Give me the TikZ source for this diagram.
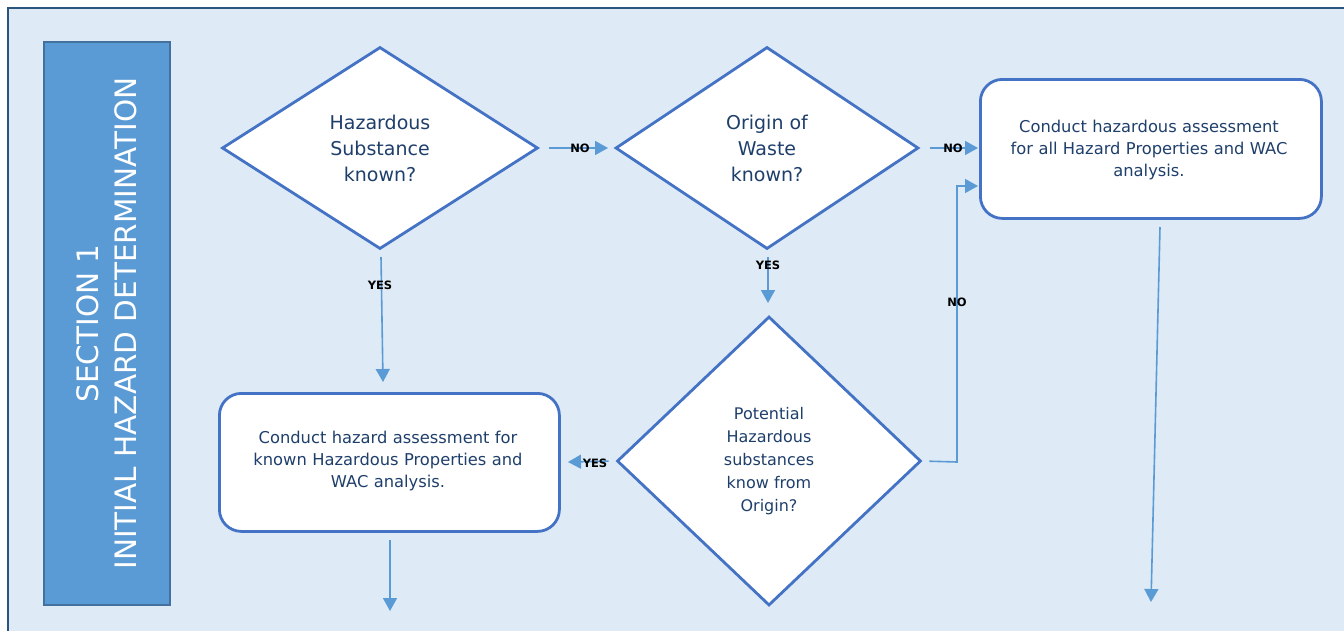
\documentclass[tikz,border=0pt]{standalone}
\usepackage{fontspec}
\setmainfont{DejaVu Sans}
\usetikzlibrary{shapes.geometric,arrows.meta}
\definecolor{bgblue}{HTML}{DEEAF6}
\definecolor{framecol}{HTML}{2B557F}
\definecolor{barfill}{HTML}{5B9BD5}
\definecolor{barline}{HTML}{41719C}
\definecolor{shapeline}{HTML}{4472C4}
\definecolor{arrowcol}{HTML}{5B9BD5}
\definecolor{txtcol}{HTML}{1F3F6B}
\tikzset{
  x=1pt,y=-1pt,
  decision/.style={diamond, draw=shapeline, line width=2.8pt, fill=white, inner sep=0pt, align=center, text=txtcol},
  procbox/.style={rectangle, rounded corners=22pt, draw=shapeline, line width=2.8pt, fill=white, align=center, text=txtcol, font=\fontsize{16.3}{22}\selectfont},
  flow/.style={draw=arrowcol, line width=1.6pt, -{Triangle[length=13pt,width=14pt]}},
  lbl/.style={font=\fontsize{11.5}{12}\selectfont\bfseries, text=black, inner sep=0pt},
}
\begin{document}
\begin{tikzpicture}
\useasboundingbox (0,0) rectangle (1344,630);
\fill[white] (0,0) rectangle (1344,630);
\draw[fill=bgblue, draw=framecol, line width=2.6pt] (8,8) rectangle (1360,650);

% side bar
\node[draw=barline, fill=barfill, line width=2.2pt, minimum width=126pt, minimum height=563pt, inner sep=0pt, anchor=north west] (bar) at (43,41) {};
\node[rotate=90, text=white, align=center, font=\fontsize{29.5}{38}\selectfont] (bartxt) at (bar.center) {SECTION 1\\INITIAL HAZARD DETERMINATION};

% decisions
\node[decision, minimum width=316pt, minimum height=202pt, font=\fontsize{19}{26}\selectfont] (d1) at (380,148) {Hazardous\\Substance\\known?};
\node[decision, minimum width=303pt, minimum height=202pt, font=\fontsize{19}{26}\selectfont] (d2) at (767,148) {Origin of\\Waste\\known?};
\node[decision, minimum width=304pt, minimum height=289pt, font=\fontsize{16}{23}\selectfont] (d3) at (769,461) {Potential\\Hazardous\\substances\\know from\\Origin?};

% boxes
\node[procbox, minimum width=341pt, minimum height=139pt, anchor=north west] (b1) at (979,78) {};
\node[procbox, draw=none, fill=none, anchor=north, text width=330pt] (b1t) at (1149,115) {Conduct hazardous assessment\\for all Hazard Properties and WAC\\analysis.};
\node[procbox, minimum width=340pt, minimum height=138pt, anchor=north west] (b2) at (218,392) {};
\node[procbox, draw=none, fill=none, text width=330pt] (b2t) at (388,461) {Conduct hazard assessment for\\known Hazardous Properties and\\WAC analysis.};

% free ends
\coordinate (t1) at (608,148);
\coordinate (t2) at (978,148);
\coordinate (t3) at (383,382);
\coordinate (t4) at (768,303);
\coordinate (t5) at (568,462);
\coordinate (t6) at (978,186);
\coordinate (e6) at (957,462);
\coordinate (s7) at (1160,227);
\coordinate (t7) at (1151,602);
\coordinate (s8) at (390,540);
\coordinate (t8) at (390,611);
\coordinate (s3) at (381,257);
\coordinate (s4) at (768,257);

% connectors
\draw[flow, shorten <=10pt] (d1.east) -- (t1);
\node[lbl] (no1) at (580,148) {NO};
\draw[flow, shorten <=10pt] (d2.east) -- (t2);
\node[lbl] (no2) at (953,148) {NO};
\draw[flow] (s3) -- (t3);
\node[lbl] (yes1) at (380,285) {YES};
\draw[flow] (s4) -- (t4);
\node[lbl] (yes2) at (768,265) {YES};
\draw[flow, shorten <=7pt] (d3.west) -- (t5);
\node[lbl] (yes3) at (595,463) {YES};
\draw[flow, shorten <=7pt] (d3.east) -- (e6) -- (e6 |- t6) -- (t6);
\node[lbl] (no3) at (957,302) {NO};
\draw[flow] (s7) -- (t7);
\draw[flow] (s8) -- (t8);
\end{tikzpicture}
\end{document}
